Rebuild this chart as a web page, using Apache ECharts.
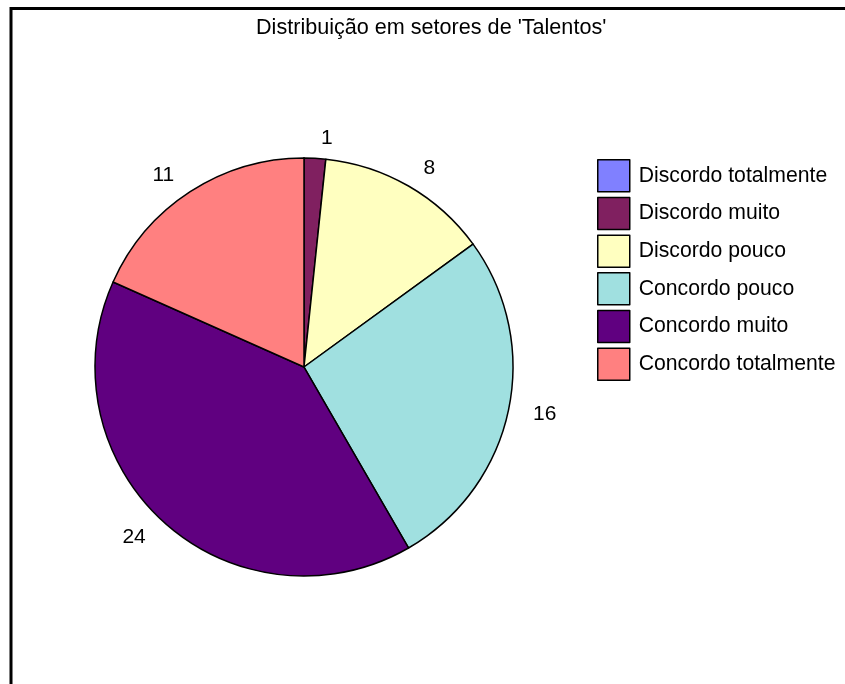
<!DOCTYPE html>
<html>
<head>
<meta charset="utf-8">
<script src="https://cdn.jsdelivr.net/npm/echarts@6/dist/echarts.min.js"></script>
<style>
html,body{margin:0;padding:0;background:#fff;}
#c{width:845px;height:684px;}
</style>
</head>
<body>
<div id="c"></div>
<script>
const categories = ['Discordo totalmente','Discordo muito','Discordo pouco','Concordo pouco','Concordo muito','Concordo totalmente'];
const values = [0, 1, 8, 16, 24, 11];
const colors = ['#8080FF','#802060','#FFFFC0','#A0E0E0','#600080','#FF8080'];
const titleText = "Distribuição em setores de 'Talentos'";

const chart = echarts.init(document.getElementById('c'));
const font = 'Liberation Sans, Arial, sans-serif';
chart.setOption({
  animation: false,
  title: {
    text: titleText,
    left: 256, top: 17, padding: 0,
    textStyle: {fontFamily: font, fontSize: 21.6, fontWeight: 'normal', color: '#000'}
  },
  legend: {
    orient: 'vertical',
    left: 597, top: 159, padding: 0,
    itemWidth: 32, itemHeight: 32, itemGap: 4.2,
    icon: 'rect',
    itemStyle: {borderColor: '#000', borderWidth: 1.5},
    textStyle: {fontFamily: font, fontSize: 21.2, color: '#000', padding: [0,0,0,4]},
    data: categories
  },
  graphic: [{
    type: 'rect',
    shape: {x: 11, y: 8.5, width: 1000, height: 1000},
    style: {fill: 'none', stroke: '#000', lineWidth: 3},
    silent: true
  }],
  series: [{
    type: 'pie',
    center: [304, 367],
    radius: 209,
    startAngle: 90,
    clockwise: true,
    avoidLabelOverlap: false,
    data: categories.map((n, i) => ({name: n, value: values[i], itemStyle: {color: colors[i]}})),
    itemStyle: {borderColor: '#000', borderWidth: 1.5},
    label: {
      show: true, position: 'outside',
      formatter: p => p.value === 0 ? '' : String(p.value),
      fontFamily: font, fontSize: 21, color: '#000'
    },
    labelLine: {show: false, length: 20, length2: 0},
    emphasis: {disabled: true}
  }]
});
</script>
</body>
</html>
